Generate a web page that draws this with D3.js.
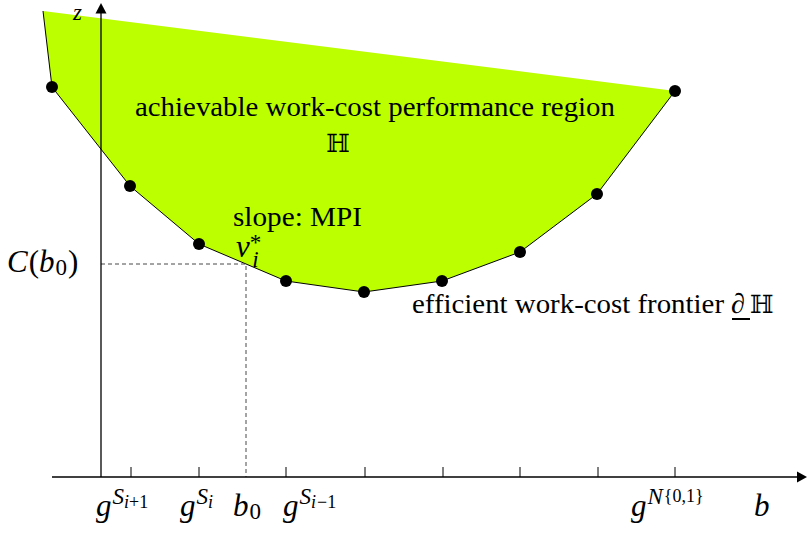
<!DOCTYPE html>
<html><head><meta charset="utf-8">
<script src="https://cdn.jsdelivr.net/npm/d3@7"></script>
<style>html,body{margin:0;padding:0;background:#fff;} svg{display:block;}</style>
</head><body>
<svg id="c" width="807" height="534"></svg>
<script>
// ---- data (abstract b / z units) ----
const frontierB = [-4.9, 2.9, 9.8, 18.5, 26.3, 34.1, 41.9, 49.6, 57.4];
const frontierZ = [39.0, 29.1, 23.3, 19.6, 18.5, 19.6, 22.5, 28.3, 38.6];
const regionCornerB = [-5.8];
const regionCornerZ = [46.6];
const tickB = [3.0, 9.8, 18.5, 26.4, 34.2, 41.9, 49.7, 57.4];
const b0 = 14.5;
const Cb0 = 21.3;
const axisStartB = -4.9;
// tick labels: start b of each label
const tickLabelB = [-0.5, 7.9, 13.2, 18.2, 53.0, 65.3];
const tickLabelText = ["g^{S_{i+1}}", "g^{S_i}", "b_0", "g^{S_{i-1}}", "g^{N^{{0,1}}}", "b"];

const svg = d3.select("#c");
const x = d3.scaleLinear().domain([0, 70.6]).range([101, 807]);
const y = d3.scaleLinear().domain([0, 47.4]).range([477, 3]);
const serif = "'Liberation Serif','Times New Roman',serif";
const green = "#bbff00";

const regionPts = [[regionCornerB[0], regionCornerZ[0]]].concat(frontierB.map((b,i)=>[b, frontierZ[i]]));
const line = d3.line().x(d=>x(d[0])).y(d=>y(d[1]));
svg.append("path").attr("d", line(regionPts) + "Z").attr("fill", green).attr("stroke", "none");
svg.append("path").attr("d", line(regionPts)).attr("fill", "none").attr("stroke", "#000").attr("stroke-width", 1);

// dashed helper lines
svg.append("path")
  .attr("d", `M${x(0)},${y(Cb0)}H${x(b0)}V${y(0)}`)
  .attr("fill","none").attr("stroke","#333").attr("stroke-width",0.9).attr("stroke-dasharray","4,3");

// axes
svg.append("line").attr("x1", x(axisStartB)).attr("y1", y(0)).attr("x2", 800).attr("y2", y(0))
  .attr("stroke","#000").attr("stroke-width",1.3);
svg.append("line").attr("x1", x(0)).attr("y1", y(0)).attr("x2", x(0)).attr("y2", 12)
  .attr("stroke","#000").attr("stroke-width",1.3);
svg.append("path").attr("d", `M${x(0)},3L${x(0)-5.5},13.5L${x(0)+5.5},13.5Z`).attr("fill","#000");
svg.append("path").attr("d", `M807,${y(0)}L797,${y(0)-5.5}L797,${y(0)+5.5}Z`).attr("fill","#000");

// ticks
svg.append("g").selectAll("line").data(tickB).join("line")
  .attr("x1", d=>x(d)).attr("x2", d=>x(d)).attr("y1", y(0)).attr("y2", y(0)-10)
  .attr("stroke","#000").attr("stroke-width",1);

// dots
svg.append("g").selectAll("circle").data(frontierB).join("circle")
  .attr("cx", d=>x(d)).attr("cy", (d,i)=>y(frontierZ[i])).attr("r", 6).attr("fill","#000");

function mathLabel(sel, segs, px, py) {
  const t = sel.append("text").attr("x", px).attr("y", py)
    .attr("font-family", serif).attr("fill","#000");
  segs.forEach(s => {
    const ts = t.append("tspan").text(s.t).attr("font-size", s.size)
      .attr("font-style", s.it ? "italic" : "normal");
    if (s.dy) ts.attr("dy", s.dy);
    if (s.dx) ts.attr("dx", s.dx);
  });
  return t;
}
const M = 31, S1 = 23, S2 = 18;
const labelSegs = {
  "g^{S_{i+1}}": [{t:"g",size:M,it:1},{t:"S",size:S1,it:1,dy:-12,dx:1},{t:"i",size:S2,it:1,dy:4},{t:"+1",size:S2}],
  "g^{S_i}": [{t:"g",size:M,it:1},{t:"S",size:S1,it:1,dy:-12,dx:1},{t:"i",size:S2,it:1,dy:4}],
  "b_0": [{t:"b",size:M,it:1},{t:"0",size:S1,dy:3,dx:1}],
  "g^{S_{i-1}}": [{t:"g",size:M,it:1},{t:"S",size:S1,it:1,dy:-12,dx:1},{t:"i",size:S2,it:1,dy:4},{t:"−1",size:S2,dx:1}],
  "g^{N^{{0,1}}}": [{t:"g",size:M,it:1},{t:"N",size:S1,it:1,dy:-12,dx:1},{t:"{0,1}",size:S2,dy:-2,dx:1}],
  "b": [{t:"b",size:M,it:1}]
};
tickLabelText.forEach((k,i)=>{ mathLabel(svg, labelSegs[k], x(tickLabelB[i]), 516); });

// axis titles
mathLabel(svg, [{t:"z",size:23,it:1}], 73, 20);
mathLabel(svg, [{t:"C",size:M,it:1},{t:"(",size:M,dx:1},{t:"b",size:M,it:1},{t:"0",size:S1,dy:3,dx:1},{t:")",size:M,dy:-3,dx:1}], 7, 272);

function plain(txt, px, py, size, len) {
  const t = svg.append("text").attr("x", px).attr("y", py).attr("font-family", serif)
    .attr("font-size", size).attr("fill","#000").text(txt);
  if (len) t.attr("textLength", len).attr("lengthAdjust","spacingAndGlyphs");
  return t;
}
plain("achievable work-cost performance region", 135, 116, 27, 480);
svg.append("text").attr("x", 338).attr("y", 152).attr("text-anchor","middle")
  .attr("font-family","'DejaVu Serif',serif").attr("font-size",25).attr("fill","#000").text("ℍ");
plain("slope: MPI", 233, 226, 27, 129);
// nu_i^* as one text
mathLabel(svg, [{t:"ν",size:M,it:1},{t:"*",size:S1,dy:-7,dx:0},{t:"i",size:S1,it:1,dy:17,dx:-9}], 236, 257);
plain("efficient work-cost frontier", 412, 313, 27, 312);
svg.append("text").attr("x", 731).attr("y", 313).attr("font-family", serif).attr("font-style","italic")
  .attr("font-size",28).attr("fill","#000").text("∂");
svg.append("line").attr("x1",732).attr("x2",750).attr("y1",319).attr("y2",319).attr("stroke","#000").attr("stroke-width",2);
svg.append("text").attr("x", 750).attr("y", 313)
  .attr("font-family","'DejaVu Serif',serif").attr("font-size",25).attr("fill","#000").text("ℍ");
</script>
</body></html>
